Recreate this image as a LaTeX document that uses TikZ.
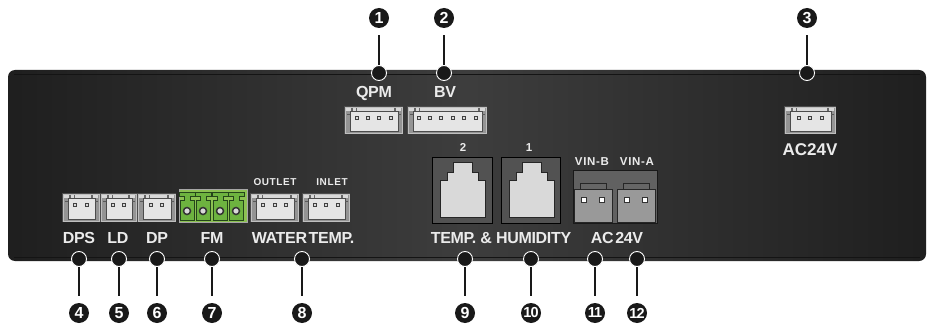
\documentclass[tikz,border=0pt]{standalone}
\usepackage{fontspec}
\setmainfont{Liberation Sans}
\newfontfamily\spaced[LetterSpace=6]{Liberation Sans}
\newfontfamily\tight[LetterSpace=-2]{Liberation Sans}
\newfontfamily\tighter[LetterSpace=-7]{Liberation Sans}
\definecolor{termgreen}{HTML}{6DB33F}
\definecolor{termlight}{HTML}{8CC152}
\definecolor{termdark}{HTML}{24451A}
\tikzset{
	lbl/.style={text=white!92!black, inner sep=0pt, anchor=base, font=\tight\bfseries\fontsize{16}{16}\selectfont},
	smalllbl/.style={text=white!92!black, inner sep=0pt, anchor=base, font=\spaced\bfseries\fontsize{10}{10}\selectfont},
	vinlbl/.style={smalllbl, font=\spaced\bfseries\fontsize{11.5}{12}\selectfont},
	num/.style={circle, fill=black!90, text=white, inner sep=0pt, minimum size=20pt, font=\bfseries\fontsize{16}{16}\selectfont},
	numtwo/.style={num, font=\tighter\bfseries\fontsize{14.5}{15}\selectfont},
	dot/.style={circle, fill=black!90, draw=white, line width=0.9pt, inner sep=0pt, minimum size=15pt},
	lead/.style={black!90, line width=1.1pt, shorten <=7pt},
	pin/.style={draw=black!75, fill=white!85!black, line width=0.8pt, minimum size=3pt, inner sep=0pt}
}
% x1, y1, x2, y2, number of pins
\newcommand{\header}[5]{
	\fill[black!70] (#1,#2) rectangle (#3,#4);
	\draw[black!25, line width=0.8pt, fill=black!42] (#1+1,#2+1) rectangle (#3-1,#4-1);
	\fill[white!85!black] (#1+2,#2+2) rectangle (#3-2,#2+5);
	\fill[black!60] (#1+7,#2+2) rectangle (#1+9,#2+5);
	\fill[black!60] (#1+12,#2+2) rectangle (#1+13,#2+5);
	\fill[black!60] (#3-9,#2+2) rectangle (#3-7,#2+5);
	\draw[black!70, line width=0.7pt, fill=white!90!black] (#1+6,#2+5) -- (#3-5,#2+5) -- (#3-5,#4-3) -- (#1+6,#4-3) -- cycle;
	\draw[black!65, line width=0.6pt] (#1+3,#2+8) -- (#1+6,#2+8);
	\draw[black!65, line width=0.6pt] (#3-2,#2+8) -- (#3-5,#2+8);
	\foreach \i in {1,...,#5}
		\node[pin] at ({(#1+#3)/2+11.4*(\i-(#5+1)/2)},#2+12) {};
}
% x1, x2 of an RJ jack
\newcommand{\jack}[2]{
	\draw[black, line width=1pt, fill=black!68] (#1,157) rectangle (#2,223);
	\draw[black!85, line width=0.8pt, fill=white!85!black] (#1+8,180) -- (#1+15,180) -- (#1+15,172) -- (#1+21,172) -- (#1+21,162) -- (#1+40,162) -- (#1+40,172) -- (#1+46,172) -- (#1+46,180) -- (#1+53,180) -- (#1+53,217) -- (#1+8,217) -- cycle;
}
% x1 of a two pole plug
\newcommand{\plug}[1]{
	\draw[black!85, line width=0.7pt, fill=black!60] (#1+6,183) rectangle (#1+32,189);
	\draw[black!85, line width=0.7pt, fill=black!40] (#1,189) rectangle (#1+38,222);
	\draw[black!80, line width=1pt, fill=white] (#1+7,197) rectangle +(5,5);
	\draw[black!80, line width=1pt, fill=white] (#1+25,197) rectangle +(5,5);
}
\begin{document}
\begin{tikzpicture}[x=1pt, y=-1pt]
		\useasboundingbox (0,0) rectangle (928,326);
		\fill[white] (0,0) rectangle (928,326);
		% case
		\shade[rounded corners=7pt, left color=black!88, right color=black!88, middle color=black!76] (8,70) rectangle (926,261);
		\draw[black!92, line width=1pt] (14,75) -- (920,75);
		\draw[black!92, line width=1pt] (14,257) -- (920,257);
		% connectors
		\header{344}{106}{403}{134}{4}
		\header{407}{106}{487}{134}{6}
		\header{784}{106}{836}{134}{3}
		\header{62}{193}{100}{222}{2}
		\header{100}{193}{137}{222}{2}
		\header{137}{193}{176}{222}{2}
		\header{250}{193}{299}{222}{3}
		\header{302}{193}{350}{222}{3}
		% green terminal block
		\draw[black!35, line width=0.8pt, fill=termlight] (179,189) rectangle (247,222);
		\foreach \x in {187,203,220,236} {
			\draw[termdark, line width=0.8pt, fill=termgreen] (\x-8,192) -- (\x+8,192) -- (\x+8,196) -- (\x+3,196) -- (\x+3,200) -- (\x+7,200) -- (\x+7,220) -- (\x-7,220) -- (\x-7,200) -- (\x-3,200) -- (\x-3,196) -- (\x-8,196) -- cycle;
			\draw[black!80, line width=1.5pt, fill=white!70!gray] (\x,211) circle (3.5);
		}
		% modular jacks
		\jack{432}{492}
		\jack{501}{560}
		% AC plugs
		\draw[black!90, line width=0.8pt, fill=black!62] (573,170) rectangle (657,223);
		\plug{574}
		\plug{617}
		% labels
		\node[lbl] (lqpm) at (374,97.5) {QPM};
		\node[lbl] (lbv) at (445,97.5) {BV};
		\node[lbl, font=\bfseries\fontsize{17}{17}\selectfont] (lacmain) at (810,155.5) {AC24V};
		\node[lbl] (ldps) at (79,243) {DPS};
		\node[lbl] (lld) at (118,243) {LD};
		\node[lbl] (ldp) at (157,243) {DP};
		\node[lbl] (lfm) at (212,243) {FM};
		\node[lbl] (lwater) at (303,243) {WATER\hspace{-2.5pt} TEMP.};
		\node[lbl] (ltemp) at (501,243) {TEMP. \& HUMIDITY};
		\node[lbl] (lac) at (617,243) {AC\hspace{-2.5pt} 24V};
		\node[smalllbl] (loutlet) at (275,185.5) {OUTLET};
		\node[smalllbl] (linlet) at (332,185.5) {INLET};
		\node[vinlbl] (ltwo) at (463,151) {2};
		\node[vinlbl] (lone) at (529,151) {1};
		\node[vinlbl] (lvinb) at (592,165.5) {VIN-B};
		\node[vinlbl] (lvina) at (637,165.5) {VIN-A};
		% numbers and leaders
		\foreach \name/\x/\txt in {1/379/1, 2/444/2, 3/807/3} {
			\node[num] (n\name) at (\x,18) {\txt};
			\node[dot] (d\name) at (\x,73) {};
			\draw[lead] (n\name) -- (d\name);
		}
		\foreach \name/\x/\txt in {4/79/4, 5/119/5, 6/157/6, 7/212/7, 8/302/8, 9/465/9} {
			\node[num] (n\name) at (\x,313) {\txt};
			\node[dot] (d\name) at (\x,259) {};
			\draw[lead] (n\name) -- (d\name);
		}
		\foreach \name/\x/\txt in {10/531/10, 11/595/11, 12/637/12} {
			\node[numtwo] (n\name) at (\x,313) {\txt};
			\node[dot] (d\name) at (\x,259) {};
			\draw[lead] (n\name) -- (d\name);
		}
		\end{tikzpicture}
\end{document}
